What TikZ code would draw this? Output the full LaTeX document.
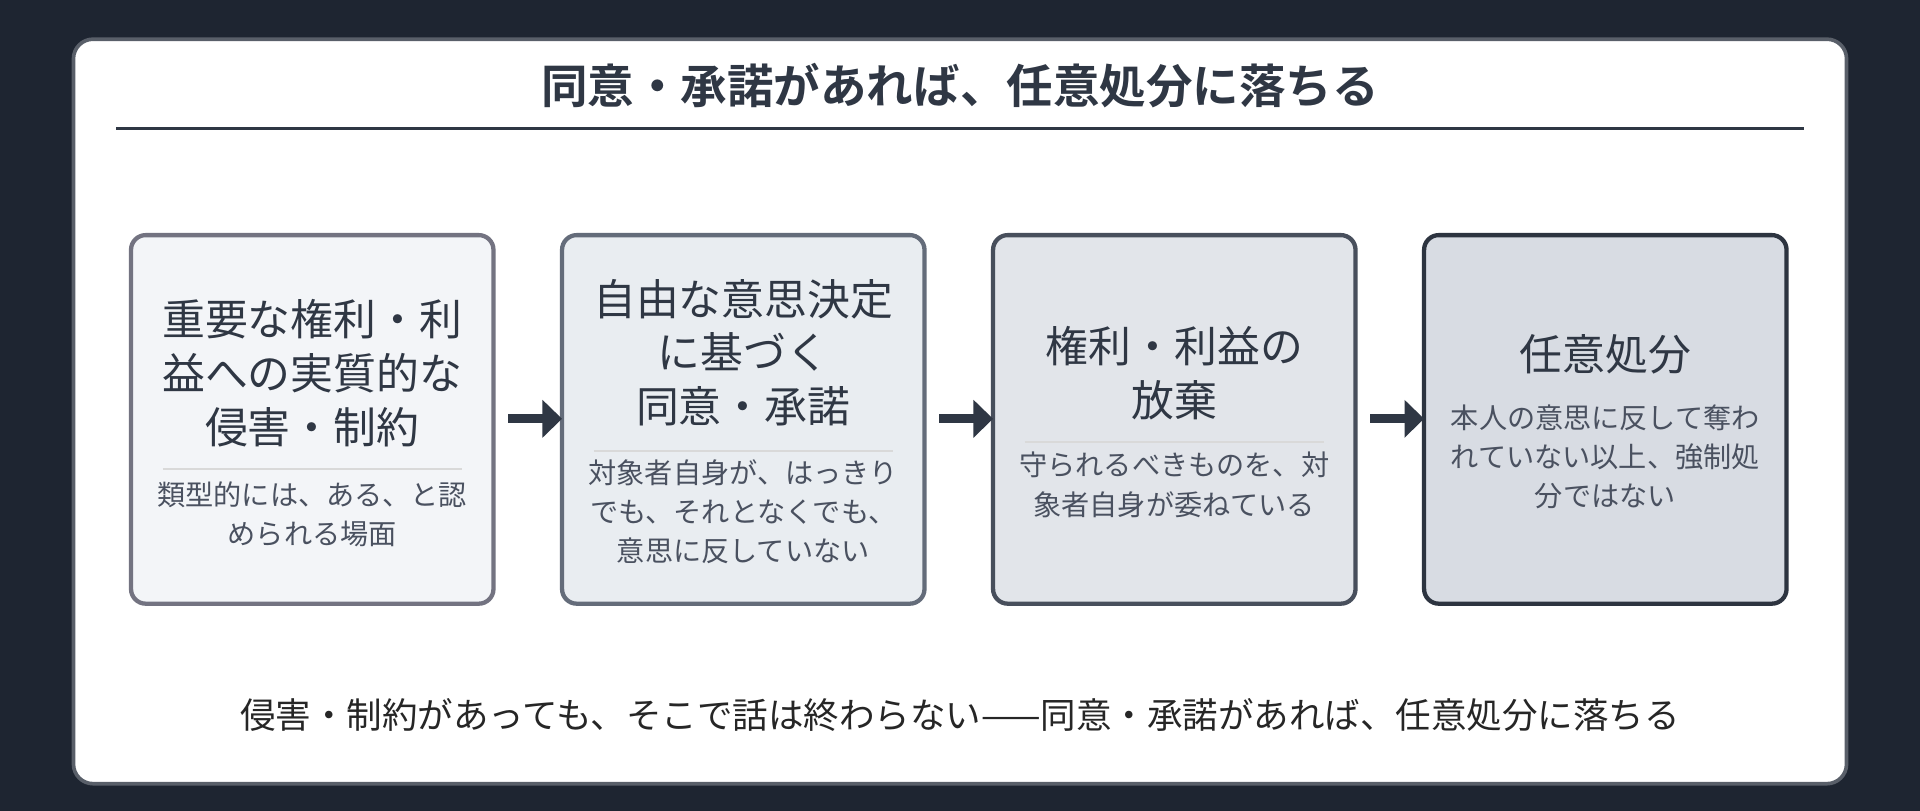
\documentclass[tikz,border=0pt]{standalone}
\usepackage{fontspec}
\setmainfont{Noto Sans CJK JP}
\newfontfamily\jpb{Noto Sans CJK JP}[BoldFont={* Bold}]
\usetikzlibrary{arrows.meta}
\definecolor{bg}{HTML}{1E2531}
\definecolor{ink}{HTML}{2F3744}
\definecolor{sub}{HTML}{4A5160}
\tikzset{x=1pt,y=-1pt,
 box/.style={rounded corners=12pt,line width=3.5pt},
 ttl/.style={font=\fontsize{35}{44}\selectfont,text=ink,align=center},
 sbt/.style={font=\fontsize{23}{32}\selectfont,text=sub,align=center},
 sep/.style={draw=black!15,line width=1.5pt},
 arr/.style={-{Triangle[length=16pt,width=30pt]},line width=7pt,draw=ink}}
\begin{document}
\begin{tikzpicture}
\fill[bg] (0,0) rectangle (1568,662);
\useasboundingbox (0,0) rectangle (1568,662);
\draw[fill=white,draw=ink!80,line width=3pt,rounded corners=16pt] (60,32) rectangle (1508,640);
\node[font=\jpb\bfseries\fontsize{38}{44}\selectfont,text=ink] (title) at (784,70) {同意・承諾があれば、任意処分に落ちる};
\draw[ink,line width=2pt] (95,105) -- (1473,105);
\draw[box,draw=black!45!blue!10!gray,fill={rgb,255:red,243;green,245;blue,248}] (107,192) rectangle (403,493);
\draw[box,draw={rgb,255:red,100;green,108;blue,122},fill={rgb,255:red,233;green,237;blue,241}] (459,192) rectangle (755,493);
\draw[box,draw={rgb,255:red,72;green,79;blue,92},fill={rgb,255:red,226;green,229;blue,234}] (811,192) rectangle (1107,493);
\draw[box,draw={rgb,255:red,45;green,52;blue,64},fill={rgb,255:red,216;green,220;blue,227}] (1163,192) rectangle (1459,493);
\node[ttl] (t1) at (255,305) {重要な権利・利\\益への実質的な\\侵害・制約};
\draw[sep] (133,383) -- (377,383);
\node[sbt] (s1) at (255,420) {類型的には、ある、と認\\められる場面};
\node[ttl] (t2) at (607,288) {自由な意思決定\\に基づく\\同意・承諾};
\draw[sep] (485,368) -- (729,368);
\node[sbt] (s2) at (607,418) {対象者自身が、はっきり\\でも、それとなくでも、\\意思に反していない};
\node[ttl] (t3) at (959,305) {権利・利益の\\放棄};
\draw[sep] (837,361) -- (1081,361);
\node[sbt] (s3) at (959,396) {守られるべきものを、対\\象者自身が委ねている};
\node[ttl] (t4) at (1311,289) {任意処分};
\node[sbt] (s4) at (1311,373) {本人の意思に反して奪わ\\れていない以上、強制処\\分ではない};
\coordinate (a1s) at (415,342); \coordinate (a1e) at (459,342);
\coordinate (a2s) at (767,342); \coordinate (a2e) at (811,342);
\coordinate (a3s) at (1119,342); \coordinate (a3e) at (1163,342);
\draw[arr] (a1s) -- (a1e);
\draw[arr] (a2s) -- (a2e);
\draw[arr] (a3s) -- (a3e);
\node[font=\fontsize{29}{34}\selectfont,text=black!85] (foot) at (784,584) {侵害・制約があっても、そこで話は終わらない——同意・承諾があれば、任意処分に落ちる};
\end{tikzpicture}
\end{document}
